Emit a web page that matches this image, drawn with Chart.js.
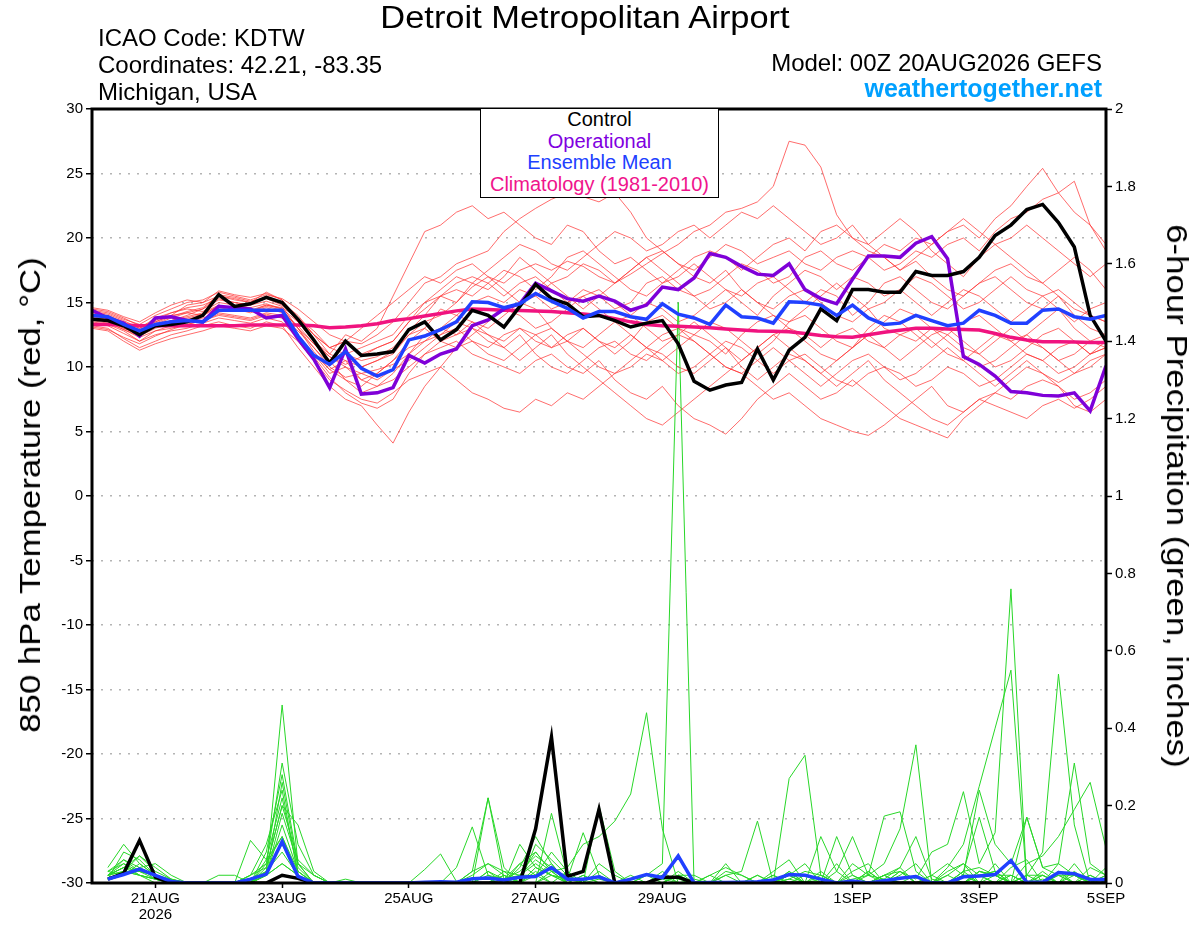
<!DOCTYPE html>
<html>
<head>
<meta charset="utf-8">
<title>Detroit Metropolitan Airport - GEFS</title>
<script src="https://cdn.jsdelivr.net/npm/chart.js@4.4.1/dist/chart.umd.min.js"></script>
<style>
  html, body { margin: 0; padding: 0; background: #fff; }
  #wrap { position: relative; width: 1200px; height: 927px; font-family: 'Liberation Sans', Arial, sans-serif; color: #000; }
  #c { position: absolute; left: 0; top: 0; }
  .txt { position: absolute; white-space: nowrap; line-height: 1; }
  #legendBox { position: absolute; left: 480px; top: 108px; width: 237px; height: 88px; background: #fff;
               border: 1.5px solid #000; text-align: center; font-size: 20px; line-height: 21.5px; }
</style>
</head>
<body>
<div id="wrap">
  <canvas id="c" width="1200" height="927"></canvas>
  <div class="txt" style="left:585px; top:2px; font-size:31px; transform:translateX(-50%) scaleX(1.11);">Detroit Metropolitan Airport</div>
  <div class="txt" style="left:98px; top:26px; font-size:24px;">ICAO Code: KDTW</div>
  <div class="txt" style="left:98px; top:53px; font-size:24px;">Coordinates: 42.21, -83.35</div>
  <div class="txt" style="left:98px; top:80px; font-size:24px;">Michigan, USA</div>
  <div class="txt" style="right:98px; top:51px; font-size:24px;">Model: 00Z 20AUG2026 GEFS</div>
  <div class="txt" style="right:98px; top:76px; font-size:25px; font-weight:bold; color:#00a0ff;">weathertogether.net</div>
  <div class="txt" style="left:30px; top:495px; font-size:30px; transform:translate(-50%,-50%) rotate(-90deg) scaleX(1.16);">850 hPa Temperature (red, °C)</div>
  <div class="txt" style="left:1177px; top:496px; font-size:30px; transform:translate(-50%,-50%) rotate(90deg) scaleX(1.16);">6-hour Precipitation (green, inches)</div>
  <div id="legendBox">
    <div style="color:#000">Control</div>
    <div style="color:#8000e0">Operational</div>
    <div style="color:#2040ff">Ensemble Mean</div>
    <div style="color:#f0148c">Climatology (1981-2010)</div>
  </div>
</div>
<script>
// forecast hours since 00Z 20AUG2026
const hours = [0,6,12,18,24,30,36,42,48,54,60,66,72,78,84,90,96,102,108,114,120,126,132,138,144,150,156,162,168,174,180,186,192,198,204,210,216,222,228,234,240,246,252,258,264,270,276,282,288,294,300,306,312,318,324,330,336,342,348,354,360,366,372,378,384];
const precipHours = [6,12,18,24,30,36,42,48,54,60,66,72,78,84,90,96,102,108,114,120,126,132,138,144,150,156,162,168,174,180,186,192,198,204,210,216,222,228,234,240,246,252,258,264,270,276,282,288,294,300,306,312,318,324,330,336,342,348,354,360,366,372,378,384];

const xTickHours = [24, 72, 120, 168, 216, 288, 336, 384];
const xTickLabels = [['21AUG', '2026'], '23AUG', '25AUG', '27AUG', '29AUG', '1SEP', '3SEP', '5SEP'];

// 850 hPa temperature (C)
const controlTemp = [
  13.7,13.6,13.2,12.5,13.2,13.3,13.5,14.0,15.6,14.7,14.9,15.4,15.0,
  13.7,12.1,10.3,12.0,10.9,11.0,11.2,12.9,13.5,12.1,12.9,14.4,14.0,
  13.1,14.7,16.4,15.3,14.9,13.9,14.0,13.6,13.1,13.4,13.6,11.8,8.9,
  8.2,8.6,8.8,11.4,9.0,11.3,12.3,14.5,13.6,16.0,16.0,15.8,15.8,
  17.4,17.1,17.1,17.4,18.5,20.2,21.0,22.2,22.6,21.2,19.3,14.0,12.0];
const operationalTemp = [
  14.4,13.8,13.4,12.4,13.8,13.9,13.6,13.5,14.7,14.6,14.5,13.8,14.0,
  12.2,10.6,8.4,11.4,7.9,8.0,8.4,10.9,10.3,11.0,11.4,13.2,13.65,
  14.5,14.9,16.5,15.9,15.3,15.1,15.5,15.1,14.4,14.8,16.2,16.0,16.9,
  18.8,18.5,17.8,17.2,17.1,18.0,16.0,15.3,14.9,16.8,18.6,18.6,18.5,
  19.6,20.1,18.4,10.8,10.2,9.3,8.1,8.0,7.8,7.75,8.0,6.6,10.1];
const meanTemp = [
  14.0,13.9,13.3,12.8,13.3,13.5,13.6,13.5,14.4,14.4,14.4,14.4,14.4,
  12.4,10.9,10.2,11.2,9.9,9.3,9.8,12.1,12.4,12.9,13.5,15.05,15.0,
  14.6,14.9,15.7,15.1,14.55,13.8,14.3,14.3,13.9,13.7,14.9,14.1,13.8,
  13.3,14.8,13.9,13.8,13.4,15.05,15.0,14.8,14.0,14.8,13.8,13.3,13.4,
  14.0,13.6,13.2,13.4,14.4,14.0,13.4,13.4,14.4,14.5,13.9,13.7,14.0];
const climTemp = [
  13.3,13.3,13.25,13.2,13.2,13.2,13.2,13.2,13.2,13.2,13.25,13.25,13.25,
  13.25,13.2,13.05,13.1,13.2,13.35,13.6,13.75,13.95,14.15,14.35,14.5,14.45,
  14.4,14.38,14.35,14.3,14.2,14.1,14.0,13.75,13.5,13.3,13.2,13.15,13.1,
  13.05,12.95,12.87,12.8,12.77,12.74,12.6,12.45,12.35,12.3,12.5,12.7,12.85,
  13.0,13.0,12.95,12.9,12.87,12.6,12.3,12.1,11.96,11.95,11.93,11.9,11.9];

// ensemble members, temperature
const m01 = [14.2,14.0,13.5,13.0,13.8,14.2,14.5,14.3,15.0,14.8,14.6,14.9,14.5, 13.0,11.5,10.2,11.0,10.5,10.8,11.5,12.8,14.0,15.5,15.0,16.2,17.0, 16.5,17.5,18.0,17.5,18.2,17.8,17.0,16.5,17.2,18.0,18.8,19.5,20.5, 21.0,22.0,22.3,22.8,24.0,27.5,27.2,25.5,21.8,20.0,19.0,18.5,17.5, 18.2,17.0,16.0,15.5,16.5,17.0,16.0,15.0,14.5,15.5,14.0,13.0,12.5];
const m02 = [13.8,13.6,13.0,12.5,13.2,13.6,14.0,14.5,15.2,15.0,14.8,15.5,15.0, 14.0,12.5,11.5,12.0,11.8,12.5,13.5,15.0,16.5,17.0,18.0,18.5,19.0, 20.5,21.5,22.3,23.0,23.5,23.2,22.8,23.5,22.0,20.0,19.0,18.0,17.0, 16.5,17.5,16.0,15.0,14.5,15.5,16.0,15.0,14.0,13.5,14.5,13.0,12.5, 12.0,13.0,12.5,11.5,11.0,12.0,13.0,12.0,11.5,10.5,11.0,12.0,11.5];
const m03 = [14.5,14.3,13.8,13.2,13.5,14.0,14.8,15.0,15.5,15.2,15.0,15.8,15.2, 13.5,12.0,11.0,12.5,12.0,13.0,15.5,18.0,20.5,21.0,22.0,22.5,21.5, 22.0,21.0,20.0,19.5,21.0,20.5,19.0,18.0,18.5,17.5,16.5,17.0,18.0, 17.0,16.0,15.5,16.5,17.0,16.0,15.0,16.0,15.5,14.0,15.0,16.5,17.0, 16.0,15.0,14.5,15.5,16.5,17.5,18.0,17.0,16.5,15.5,14.5,14.0,13.5];
const m04 = [13.5,13.3,12.8,12.0,12.8,13.2,13.5,13.8,14.2,14.0,13.8,14.2,14.0, 12.5,11.0,9.5,10.0,9.0,9.5,10.5,12.0,13.0,14.5,14.0,15.0,15.5, 15.0,16.0,15.5,14.5,15.0,16.0,15.5,14.5,15.0,16.5,17.0,16.0,15.5, 16.0,17.0,18.0,17.5,16.5,17.0,18.5,19.0,18.0,17.5,18.5,19.5,19.0, 20.0,19.5,20.5,21.0,20.0,21.5,22.5,24.0,25.4,23.5,22.0,21.0,19.5];
const m05 = [14.0,13.8,13.2,12.8,13.5,14.0,14.2,14.0,14.8,14.5,14.2,14.6,14.2, 13.2,11.8,10.5,11.2,10.0,10.5,11.2,12.5,13.5,14.0,15.0,16.5,16.0, 17.0,18.5,17.5,16.5,17.0,18.0,17.5,16.5,17.5,18.5,19.0,18.0,17.5, 18.5,19.5,19.0,18.0,18.5,19.0,18.0,17.5,18.5,19.0,18.5,17.5,18.0, 19.0,18.5,19.5,20.0,19.0,20.5,21.5,22.0,23.0,23.5,24.4,21.0,19.0];
const m06 = [13.2,13.0,12.2,11.5,12.0,12.5,12.8,13.2,13.5,13.2,13.0,13.5,13.2, 11.5,10.0,8.5,7.5,7.0,5.5,4.1,6.5,8.5,10.0,11.5,12.0,11.5, 12.5,13.0,12.0,11.5,12.5,13.0,12.0,11.0,12.0,13.5,14.0,13.0,12.5, 12.0,11.0,12.5,13.5,14.0,13.0,12.5,11.5,12.5,13.0,12.0,11.5,12.5, 13.0,12.0,11.0,10.5,11.5,12.5,12.0,11.0,10.5,11.5,12.0,11.0,12.0];
const m07 = [13.0,12.8,12.0,11.3,11.8,12.2,12.5,12.8,13.2,13.0,12.8,13.2,13.0, 12.0,10.5,9.0,8.2,7.5,7.2,8.0,9.0,9.5,10.0,9.0,8.0,7.5, 6.8,6.5,7.5,7.0,8.0,7.5,8.5,9.5,10.0,11.0,10.5,9.5,10.0, 11.0,12.0,11.5,10.5,9.5,10.5,11.0,10.0,9.0,8.5,9.5,10.0,9.5, 8.5,9.0,10.0,9.5,8.5,9.0,10.0,11.0,10.5,9.5,10.0,11.0,11.5];
const m08 = [13.6,13.4,12.9,12.3,12.8,13.0,13.3,13.6,14.0,13.8,13.6,14.0,13.8, 12.5,11.0,9.8,9.0,8.0,8.5,9.0,10.0,11.0,11.5,12.0,11.0,10.5, 10.0,9.5,10.5,11.0,10.0,9.5,10.5,9.0,8.0,7.5,8.5,7.0,6.0, 5.5,4.8,6.0,7.5,8.5,9.5,8.5,7.5,8.0,9.0,8.0,7.0,6.0, 5.5,5.0,4.5,6.0,7.0,8.0,7.5,8.5,9.0,8.5,7.5,8.0,9.0];
const m09 = [14.0,13.8,13.4,12.6,13.2,13.6,13.9,14.2,14.8,14.5,14.3,14.8,14.5, 13.5,12.0,10.8,10.0,9.5,9.8,10.2,11.0,12.5,13.0,12.5,13.0,12.0, 11.5,12.5,11.0,10.0,9.5,10.5,11.5,12.0,11.0,10.5,11.5,12.5,12.0, 11.0,10.0,9.5,8.5,7.5,8.0,7.0,6.0,5.5,5.0,4.7,5.5,6.5, 7.5,8.5,7.0,6.5,7.5,8.0,9.0,10.0,9.5,8.5,7.0,6.5,7.5];
const m10 = [13.9,13.7,13.1,12.7,13.3,13.8,14.2,14.5,15.5,15.3,15.0,15.3,14.8, 13.8,12.8,11.5,11.0,11.5,12.0,12.5,14.0,15.0,15.5,16.5,17.0,16.5, 15.5,16.5,17.0,16.0,15.0,15.5,14.5,13.5,14.0,15.0,14.5,13.5,14.0, 15.0,16.0,15.0,14.0,15.5,16.5,17.5,17.0,16.0,17.0,16.5,15.5,16.0, 15.0,14.0,15.0,16.0,15.5,14.5,13.5,14.5,15.5,16.0,15.0,14.0,13.5];
const m11 = [14.3,14.1,13.6,13.0,13.6,14.2,14.6,14.8,15.3,15.0,14.8,15.1,14.7, 13.0,11.2,9.8,10.5,9.0,8.5,9.5,11.0,12.0,12.5,13.5,13.0,12.5, 12.0,13.0,12.5,11.5,12.0,13.0,12.0,11.5,12.5,11.5,10.5,11.5,12.5, 13.5,13.0,12.0,11.0,12.0,13.5,14.0,13.0,12.0,11.5,13.0,14.0,13.5, 12.5,11.5,12.5,13.5,14.0,13.0,12.0,12.5,13.5,14.5,13.0,12.0,12.5];
const m12 = [13.7,13.5,12.9,12.4,13.0,13.4,13.7,14.0,14.6,14.4,14.3,14.7,14.4, 13.0,11.8,10.8,10.2,10.8,11.5,12.0,13.5,14.5,15.5,16.0,15.5,16.5, 17.5,17.0,16.0,17.0,18.5,19.0,18.0,17.0,16.0,15.5,16.5,17.5,18.5, 19.0,18.5,17.5,18.5,19.5,20.0,19.0,20.5,21.0,20.0,19.5,20.5,21.5, 20.5,19.0,18.0,17.0,18.5,19.5,18.5,17.5,16.5,17.5,18.5,17.5,16.0];
const m13 = [14.1,13.9,13.3,12.9,13.4,13.9,14.3,14.6,15.6,15.4,15.1,15.4,14.9, 13.5,12.0,10.5,9.0,8.5,9.5,10.5,11.5,12.0,13.0,14.0,13.5,13.0, 14.0,15.0,14.5,13.0,12.0,11.5,12.5,13.5,12.5,11.5,11.0,10.0,9.5, 10.5,11.5,10.0,9.0,10.0,11.0,10.5,9.5,8.5,9.5,10.5,9.0,8.0, 7.0,6.0,5.5,6.5,7.5,7.0,6.5,6.0,7.0,7.5,6.8,7.5,8.5];
const m14 = [14.4,14.2,13.7,13.3,14.0,14.5,15.0,15.2,15.8,15.5,15.2,15.6,15.3, 14.5,13.5,12.5,12.0,13.0,14.0,15.0,16.0,17.0,16.5,17.5,18.0,17.0, 16.0,15.0,15.5,16.5,15.5,14.5,15.5,16.5,17.5,18.5,17.5,16.5,15.5, 14.5,15.0,16.0,15.0,14.0,13.5,14.5,15.5,16.5,15.5,14.5,15.0,16.0, 17.0,16.5,15.5,14.5,15.0,16.0,17.0,16.0,15.5,14.5,13.5,14.5,15.0];
const m15 = [13.4,13.2,12.6,12.0,12.5,12.8,13.0,13.4,13.8,13.6,13.4,13.8,13.5, 12.2,10.8,9.2,8.0,7.2,6.8,7.5,9.5,11.0,12.0,11.5,12.5,13.5, 14.5,14.0,13.0,13.5,14.5,15.5,16.0,15.0,14.0,13.0,12.0,12.5,13.5, 12.5,11.5,10.5,11.5,12.5,13.0,12.0,11.0,10.5,11.5,12.5,13.5,14.5, 14.0,13.0,12.0,11.0,10.0,10.5,11.5,12.5,11.5,10.5,9.5,10.0,11.0];
const m16 = [13.8,13.6,13.0,12.6,13.1,13.5,13.8,14.1,14.7,14.6,14.4,14.8,14.6, 13.8,12.5,11.0,10.5,10.0,10.5,11.0,12.5,13.0,12.0,12.5,13.5,12.5, 11.5,10.5,11.5,12.5,11.0,10.0,9.0,8.0,7.0,6.0,5.5,6.5,7.5, 8.5,9.5,10.5,11.5,12.5,11.5,10.5,9.5,10.5,11.5,12.5,11.5,10.5, 11.5,12.5,13.0,12.0,11.0,10.0,10.5,11.5,12.5,13.0,12.0,11.0,11.5];
const m17 = [14.6,14.4,13.9,13.5,14.2,14.8,15.2,15.0,15.9,15.6,15.4,15.7,15.2, 13.8,12.5,11.5,12.0,11.0,11.5,12.0,13.5,15.0,16.0,17.0,16.5,17.5, 18.5,19.5,19.0,18.0,17.5,18.5,19.5,20.5,20.0,19.0,19.5,20.5,21.0, 20.0,21.0,22.0,21.5,22.5,21.5,20.5,19.5,20.0,21.0,19.5,18.5,17.5, 18.5,19.5,20.5,21.5,20.5,19.5,20.0,21.0,20.0,19.0,18.0,17.0,18.0];
const m18 = [13.1,12.9,12.3,11.8,12.4,12.9,13.3,13.6,14.1,13.9,13.7,14.1,13.8, 12.8,11.5,10.0,9.2,9.5,9.0,9.8,10.5,11.5,12.5,13.0,12.0,11.0, 10.5,11.5,12.5,13.0,12.0,11.0,10.0,9.5,10.5,11.5,12.5,13.0,12.0, 11.0,10.0,9.5,10.5,11.5,10.5,9.5,8.5,9.5,10.5,11.0,10.0,9.0, 9.5,10.5,11.5,10.5,9.5,8.5,9.5,10.5,9.5,8.8,9.5,10.5,11.0];
const tempMembers = [m01, m02, m03, m04, m05, m06, m07, m08, m09, m10, m11, m12, m13, m14, m15, m16, m17, m18];

// 6-hour precipitation (inches)
const controlPrecip = [
  0.01,0.025,0.11,0.015,0,0,0,0,  0,0,0,0.02,0.012,0,0,0,
  0,0,0,0,0,0,0,0,  0,0,0,0.14,0.377,0.017,0.03,0.19,
  0,0,0,0.015,0.015,0,0,0,  0,0,0,0,0,0,0,0,
  0,0,0,0,0,0,0,0,  0,0,0,0,0,0,0,0];
const meanPrecip = [
  0.01,0.022,0.036,0.02,0.004,0,0,0,  0,0.01,0.023,0.107,0.017,0,0,0,
  0,0,0,0,0.002,0.003,0.002,0.011,  0.013,0.008,0.015,0.017,0.04,0.01,0.01,0.016,
  0,0.01,0.022,0.014,0.07,0,0.001,0.001,  0.002,0.003,0.008,0.022,0.02,0.01,0,0.005,
  0,0.006,0.012,0.017,0,0,0.016,0.018,  0.022,0.058,0.002,0.002,0.027,0.024,0.009,0.009];

// ensemble members, precipitation
const p01 = [0.02,0.05,0.03,0.01,0,0,0,0, 0,0.02,0.05,0.12,0.03,0,0,0, 0,0,0,0,0,0,0,0.03, 0.05,0.02,0,0.04,0.02,0,0,0.01, 0,0,0.02,0.05,1.5,0,0,0, 0,0.02,0,0.01,0,0,0,0.02, 0,0,0.03,0,0,0.02,0.05,0.02, 0,0.04,0.06,0,0.02,0,0,0.01];
const p02 = [0.01,0.08,0.06,0.02,0,0,0,0, 0,0,0.03,0.46,0.05,0,0,0, 0,0,0,0,0,0,0,0, 0,0,0.02,0.06,0.03,0.04,0.1,0.12, 0.16,0.23,0.44,0.14,0,0,0,0, 0,0,0,0.03,0,0,0,0, 0,0.02,0,0,0,0,0,0.03, 0.02,0,0,0,0.05,0.02,0,0];
const p03 = [0.03,0.06,0.04,0.01,0,0,0,0, 0,0.02,0.1,0.24,0.02,0,0,0, 0,0,0,0,0,0,0,0, 0,0.01,0.03,0.07,0.04,0,0,0, 0,0,0,0.02,0.01,0,0,0, 0,0,0,0.01,0.03,0.02,0,0, 0,0.02,0.03,0.01,0.08,0.1,0.236,0.05, 0.13,0.76,0,0.02,0,0,0,0];
const p04 = [0.01,0.03,0.02,0,0,0,0,0, 0,0,0.05,0.31,0.1,0.02,0,0, 0,0,0,0,0,0,0,0.02, 0.05,0.03,0,0.02,0.08,0.03,0,0, 0,0,0.02,0,0,0,0,0, 0,0,0,0,0,0.02,0,0.01, 0.02,0,0,0,0,0.04,0.1,0.25, 0.4,0.55,0,0.01,0,0.03,0,0];
const p05 = [0.02,0.04,0.07,0.03,0.01,0,0,0, 0,0,0.08,0.28,0.05,0,0,0, 0,0,0,0,0,0,0,0, 0.03,0,0,0,0.18,0.02,0,0, 0,0,0,0,0.03,0,0,0, 0,0,0,0.02,0,0,0.03,0, 0,0.01,0,0,0,0,0.02,0.02, 0.03,0,0.02,0.08,0.54,0.15,0,0];
const p06 = [0.04,0.1,0.05,0.02,0,0,0,0, 0,0,0.04,0.2,0.15,0.03,0,0, 0,0,0,0,0,0,0,0, 0,0,0.02,0.05,0.02,0.01,0.13,0.02, 0,0.02,0,0,0,0,0.02,0.04, 0.02,0,0,0,0.02,0,0,0, 0,0.02,0.04,0.12,0.01,0,0.02,0.24, 0.1,0.05,0.17,0.04,0.05,0.31,0.05,0.02];
const p07 = [0.01,0.02,0.04,0.05,0.02,0,0,0, 0,0,0.02,0.15,0.03,0,0,0, 0,0,0,0,0,0,0,0, 0.22,0.04,0,0,0.03,0,0,0.05, 0.02,0,0,0,0.02,0,0,0, 0,0,0,0,0,0.12,0.03,0.12, 0.02,0.01,0.04,0,0,0.03,0.05,0, 0,0,0.05,0.07,0.12,0.19,0.26,0.09];
const p08 = [0.02,0.03,0.03,0.02,0,0,0,0, 0,0.01,0.03,0.1,0.02,0,0,0, 0,0,0,0,0,0,0,0, 0,0,0.1,0.04,0.02,0.01,0,0.2, 0.03,0,0,0,0,0.01,0,0.02, 0.03,0.16,0,0.27,0.33,0.02,0,0, 0.03,0,0,0.02,0,0,0,0.02, 0.03,0,0,0.02,0,0,0,0.04];
const p09 = [0.03,0.05,0.02,0.01,0,0,0,0, 0,0,0.02,0.26,0.04,0,0,0, 0,0,0,0,0,0,0,0, 0.02,0.01,0.05,0.02,0,0.03,0,0, 0,0,0,0,0,0,0,0.05, 0,0,0,0.02,0.05,0,0,0, 0.02,0.05,0.14,0.357,0,0,0,0.02, 0,0.02,0,0,0.03,0,0.02,0];
const p10 = [0.01,0.02,0.05,0.02,0,0,0,0, 0,0,0.03,0.08,0.02,0,0,0, 0,0,0,0,0,0,0,0, 0.03,0.01,0.02,0.08,0.03,0,0,0, 0,0,0,0.03,0,0,0,0.02, 0,0,0.02,0,0,0,0,0.05, 0.02,0.173,0.184,0.03,0,0,0.03,0.17, 0.03,0,0.17,0.04,0.02,0.02,0,0];
const p11 = [0.02,0.03,0.02,0.01,0,0,0,0, 0,0.02,0.04,0.2,0.06,0.02,0,0.01, 0,0,0,0,0.035,0.075,0.004,0, 0,0.02,0,0.03,0,0,0.02,0, 0,0,0,0,0.02,0,0,0, 0,0,0,0.03,0,0,0.05,0, 0,0,0.03,0,0.02,0.05,0.02,0, 0,0.02,0,0,0,0.05,0,0];
const p12 = [0.02,0.06,0.03,0.02,0.01,0,0,0, 0,0,0.06,0.12,0.02,0,0,0, 0,0,0,0,0,0,0.04,0.145, 0.02,0,0.05,0.08,0.03,0.02,0,0, 0,0,0,0.02,0,0,0,0, 0,0,0,0,0,0.03,0,0.03, 0.05,0,0,0,0,0,0.03,0.04, 0.02,0.02,0,0.03,0,0,0.02,0];
const p13 = [0.02,0.04,0.03,0.02,0,0,0,0, 0,0,0.02,0.05,0.02,0,0,0, 0,0,0,0,0,0,0,0.03, 0.22,0.01,0,0.1,0.06,0.02,0,0.03, 0,0,0,0,0.02,0,0,0, 0,0,0.02,0,0,0,0.12,0.02, 0,0,0,0,0,0.02,0,0.03, 0.02,0,0,0,0.02,0,0,0.02];
const p14 = [0.01,0.03,0.07,0.04,0.01,0,0,0, 0,0.11,0.06,0.22,0.03,0,0,0, 0,0,0,0,0,0,0,0, 0,0.03,0.02,0.02,0.05,0,0.02,0, 0,0,0,0,0.02,0.02,0,0, 0,0,0,0,0,0,0,0, 0.03,0,0,0,0,0,0.02,0, 0.05,0,0.02,0.02,0,0,0.04,0.02];
const p15 = [0.03,0.02,0.04,0.02,0,0,0,0.02, 0.02,0,0.02,0.05,0.02,0,0,0, 0,0,0,0,0,0,0,0, 0,0,0.04,0.12,0.05,0,0,0, 0,0,0,0,0,0,0,0.03, 0.02,0,0.03,0.06,0,0,0,0, 0,0,0.02,0.05,0,0,0.03,0, 0.02,0,0,0,0.03,0.02,0,0];
const p16 = [0.02,0.04,0.02,0.01,0,0,0,0, 0,0,0.02,0.18,0.05,0.02,0,0, 0,0,0,0,0,0,0,0, 0,0.02,0,0,0.02,0,0,0, 0,0,0,0.01,0,0,0.02,0, 0,0.02,0,0.02,0,0.01,0,0, 0,0.02,0,0,0.02,0,0,0.03, 0.02,0,0.02,0,0,0.02,0,0.02];
const precipMembers = [p01, p02, p03, p04, p05, p06, p07, p08, p09, p10, p11, p12, p13, p14, p15, p16];

const toPoints = (xs, ys) => ys.map((v, i) => ({ x: xs[i], y: v }));

const datasets = [];
// lower order is drawn on top
tempMembers.forEach(m => datasets.push({
    data: toPoints(hours, m), yAxisID: 'y',
    borderColor: 'rgba(255,45,45,0.7)', borderWidth: 1, order: 50
}));
precipMembers.forEach(p => datasets.push({
    data: toPoints(precipHours, p), yAxisID: 'y1',
    borderColor: 'rgb(40,215,40)', borderWidth: 1, order: 40
}));
datasets.push({ data: toPoints(hours, climTemp), yAxisID: 'y', borderColor: '#f0137f', borderWidth: 3.5, order: 6 });
datasets.push({ data: toPoints(hours, operationalTemp), yAxisID: 'y', borderColor: '#7f00d8', borderWidth: 3.5, order: 5 });
datasets.push({ data: toPoints(hours, controlTemp), yAxisID: 'y', borderColor: '#000', borderWidth: 3.5, order: 4 });
datasets.push({ data: toPoints(hours, meanTemp), yAxisID: 'y', borderColor: '#2040ff', borderWidth: 3.5, order: 3 });
datasets.push({ data: toPoints(precipHours, controlPrecip), yAxisID: 'y1', borderColor: '#000', borderWidth: 3.5, order: 2 });
datasets.push({ data: toPoints(precipHours, meanPrecip), yAxisID: 'y1', borderColor: '#2040ff', borderWidth: 3.5, order: 1 });

// thick frame round the plot area
const framePlugin = {
    id: 'frame',
    afterDatasetsDraw(chart) {
        const { ctx, chartArea: a } = chart;
        ctx.save();
        ctx.lineWidth = 3;
        ctx.strokeStyle = '#000';
        ctx.strokeRect(a.left, a.top, a.right - a.left, a.bottom - a.top);
        ctx.restore();
    }
};

Chart.defaults.font.family = "'Liberation Sans', Arial, sans-serif";
Chart.defaults.color = '#000';

new Chart(document.getElementById('c'), {
    type: 'line',
    data: { datasets },
    options: {
        responsive: false,
        devicePixelRatio: 1,
        animation: false,
        layout: { padding: { top: 109, left: 0, right: 0, bottom: 0 } },
        elements: { point: { radius: 0 }, line: { tension: 0, fill: false } },
        plugins: { legend: { display: false }, tooltip: { enabled: false } },
        scales: {
            x: {
                type: 'linear', min: 0, max: 384,
                afterBuildTicks: s => { s.ticks = xTickHours.map(v => ({ value: v })); },
                afterFit: s => { s.height = 44; },
                ticks: {
                    autoSkip: false, maxRotation: 0, padding: 3,
                    font: { size: 15, lineHeight: 1.05 },
                    callback: v => xTickLabels[xTickHours.indexOf(v)]
                },
                grid: { drawOnChartArea: false, drawTicks: true, tickLength: 5, tickColor: '#000', tickWidth: 1.5 },
                border: { display: false }
            },
            y: {
                position: 'left', min: -30, max: 30,
                afterFit: s => { s.width = 92; },
                ticks: { stepSize: 5, padding: 3, font: { size: 15 } },
                grid: { color: '#b4b4b4', lineWidth: 1.5, tickColor: '#000', tickLength: 6, tickWidth: 1.5 },
                border: { display: false, dash: [2, 7] }
            },
            y1: {
                position: 'right', min: 0, max: 2,
                afterFit: s => { s.width = 94; },
                ticks: { stepSize: 0.2, padding: 3, font: { size: 15 }, callback: v => String(Math.round(v * 10) / 10) },
                grid: { drawOnChartArea: false, tickColor: '#000', tickLength: 6, tickWidth: 1.5 },
                border: { display: false }
            }
        }
    },
    plugins: [framePlugin]
});
</script>
</body>
</html>
